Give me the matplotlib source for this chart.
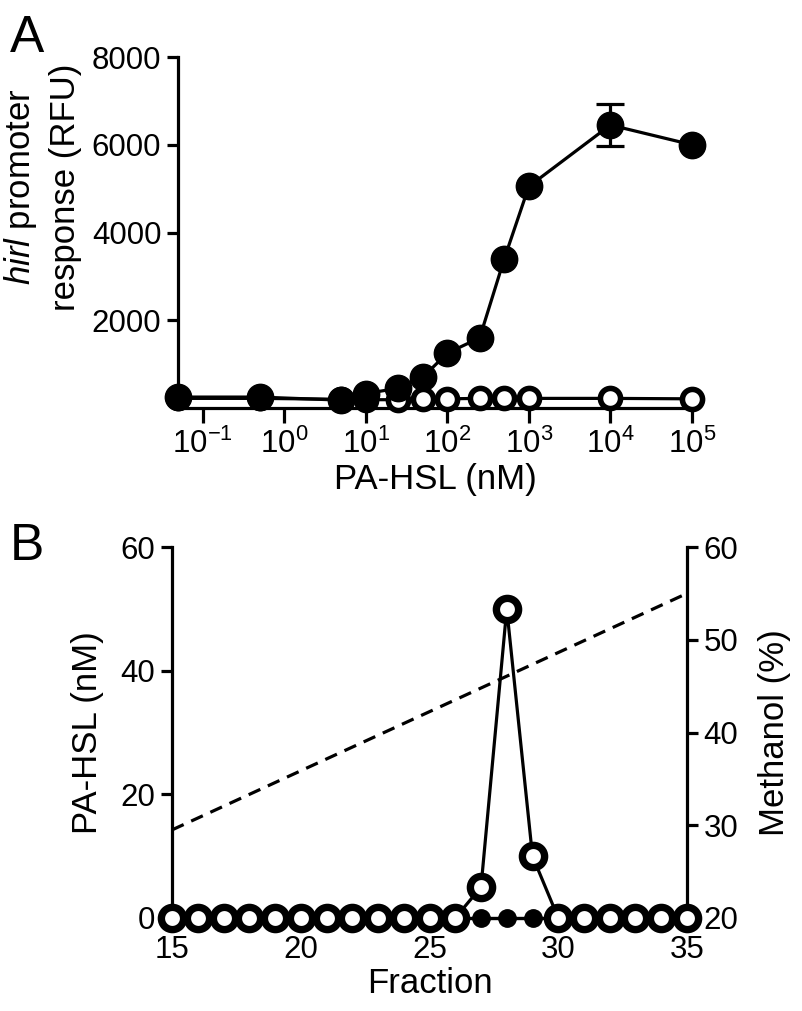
import numpy as np
import matplotlib
matplotlib.use("Agg")
import matplotlib.pyplot as plt
from matplotlib.ticker import FixedLocator, LogFormatterMathtext, NullLocator

plt.rcParams['font.family'] = ['Liberation Sans', 'DejaVu Sans']
plt.rcParams['mathtext.fontset'] = 'custom'
plt.rcParams['mathtext.rm'] = 'Liberation Sans'
plt.rcParams['mathtext.it'] = 'Liberation Sans:italic'

# Panel A: promoter response vs PA-HSL concentration
conc = [0.05, 0.5, 5, 10, 25, 50, 100, 250, 500, 1000, 10000, 100000]
resp_filled = [250, 250, 180, 330, 450, 700, 1250, 1600, 3400, 5050, 6450, 6000]
err_filled = [0, 0, 0, 0, 0, 0, 0, 0, 0, 0, 480, 0]
resp_open = [220, 220, 200, 190, 190, 200, 210, 220, 220, 220, 220, 210]

# Panel B: fractions
fractions = [15, 16, 17, 18, 19, 20, 21, 22, 23, 24, 25,
             26, 27, 28, 29, 30, 31, 32, 33, 34, 35]
hsl_open = [0, 0, 0, 0, 0, 0, 0, 0, 0, 0, 0,
            0, 5, 50, 10, 0, 0, 0, 0, 0, 0]
hsl_filled = [0, 0, 0, 0, 0, 0, 0, 0, 0, 0, 0,
              0, 0, 0, 0, 0, 0, 0, 0, 0, 0]
methanol_frac = [15, 35]
methanol_pct = [29.5, 55]

LW = 2.3
TICK_FS = 22.5
LABEL_FS = 25

fig = plt.figure(figsize=(8.02, 10.11), dpi=100)


def style(ax, sides):
    for s in ['left', 'right', 'top', 'bottom']:
        ax.spines[s].set_visible(s in sides)
        ax.spines[s].set_linewidth(LW)
    ax.tick_params(direction='out', width=LW, length=8, labelsize=TICK_FS, pad=4)


# ---- panel A ----
axA = fig.add_axes([0.2219, 0.5964, 0.6409, 0.3472])
axA.set_xscale('log')
axA.plot(conc, resp_open, 'o-', color='black', mfc='white', mec='black',
         ms=14.5, mew=4, lw=LW, zorder=3, clip_on=False)
axA.plot(conc, resp_filled, 'o-', color='black', ms=19, lw=LW, zorder=4, clip_on=False)
sel = [i for i, e in enumerate(err_filled) if e > 0]
axA.errorbar([conc[i] for i in sel], [resp_filled[i] for i in sel],
             yerr=[err_filled[i] for i in sel], fmt='none', ecolor='black',
             elinewidth=LW, capsize=10, capthick=LW, zorder=4, clip_on=False)
axA.set_xlim(0.05, 1e5)
axA.set_ylim(0, 8000)
axA.xaxis.set_major_locator(FixedLocator([1e-1, 1e0, 1e1, 1e2, 1e3, 1e4, 1e5]))
axA.xaxis.set_major_formatter(LogFormatterMathtext())
axA.xaxis.set_minor_locator(NullLocator())
axA.set_yticks([2000, 4000, 6000, 8000])
style(axA, ['left', 'bottom'])
axA.tick_params(axis='x', length=11)
axA.set_xlabel('PA-HSL (nM)', fontsize=LABEL_FS, labelpad=2)
fig.text(42 / 802, 1 - 187 / 1011, '$\\it{hirl}$ promoter\nresponse (RFU)',
         rotation=90, ha='center', va='center', fontsize=LABEL_FS,
         multialignment='center', linespacing=1.35)
fig.text(10 / 802, 1 - 52 / 1011, 'A', fontsize=37, va='baseline')

# ---- panel B ----
axB = fig.add_axes([0.2145, 0.0920, 0.6421, 0.3669])
axR = axB.twinx()
axB.set_zorder(axR.get_zorder() + 1)
axB.patch.set_visible(False)

axR.plot(methanol_frac, methanol_pct, color='black', lw=LW, dashes=(4, 2.6), zorder=2)
axR.set_ylim(20, 60)
axR.set_yticks([20, 30, 40, 50, 60])
style(axR, ['right'])
axR.set_ylabel('Methanol (%)', fontsize=LABEL_FS, labelpad=14)

axB.plot(fractions, hsl_filled, 'o-', color='black', ms=12.5, lw=LW, zorder=3, clip_on=False)
axB.plot(fractions, hsl_open, 'o-', color='black', mfc='white', mec='black',
         ms=16, mew=5.3, lw=LW, zorder=4, clip_on=False)
axB.set_xlim(15, 35)
axB.set_ylim(0, 60)
axB.set_xticks([15, 20, 25, 30, 35])
axB.set_yticks([0, 20, 40, 60])
style(axB, ['left', 'bottom'])
axB.set_xlabel('Fraction', fontsize=LABEL_FS, labelpad=2)
axB.set_ylabel('PA-HSL (nM)', fontsize=LABEL_FS, labelpad=12)
fig.text(10 / 802, 1 - 560 / 1011, 'B', fontsize=37, va='baseline')

fig.savefig('out.png', dpi=100)
